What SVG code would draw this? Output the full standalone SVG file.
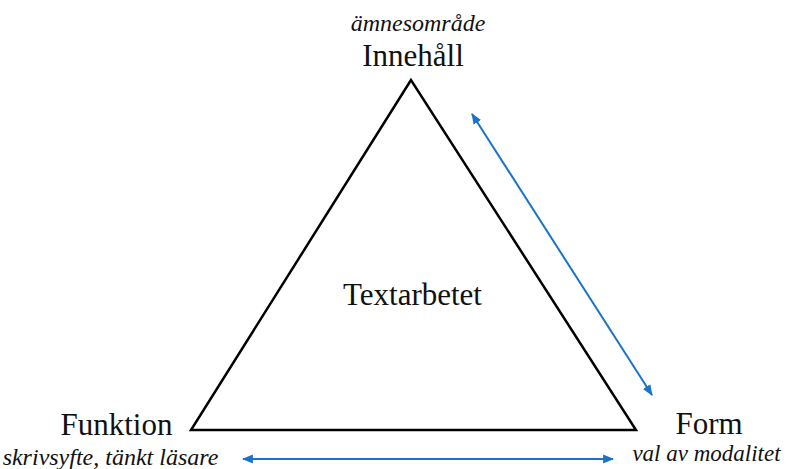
<svg xmlns="http://www.w3.org/2000/svg" width="789" height="469" viewBox="0 0 789 469">
<style>
.t{font-family:"Liberation Serif","Times New Roman",serif;fill:#111;}
.lbl{font-size:31px;}
.sub{font-size:24px;font-style:italic;}
.sub2{font-size:23px;font-style:italic;}
.arr{stroke:#1a73c7;stroke-width:2;fill:none;marker-start:url(#ah);marker-end:url(#ah);}
</style>
<defs>
<marker id="ah" viewBox="0 0 10 10" refX="9" refY="5" markerWidth="5.5" markerHeight="5.5" orient="auto-start-reverse" markerUnits="strokeWidth">
<path d="M0,1 L10,5 L0,9 Z" fill="#1a73c7"/>
</marker>
</defs>
<rect width="789" height="469" fill="#fff"/>
<g id="triangle">
<polygon points="411,80 191,430 636,430" fill="none" stroke="#000" stroke-width="2.5" stroke-linejoin="miter"/>
</g>
<g id="node-innehall">
<text class="t sub" x="418" y="31" text-anchor="middle">ämnesområde</text>
<text class="t lbl" x="413" y="66" text-anchor="middle">Innehåll</text>
</g>
<g id="node-textarbetet">
<text class="t lbl" x="412.5" y="305" text-anchor="middle">Textarbetet</text>
</g>
<g id="node-funktion">
<text class="t lbl" x="116.5" y="435" text-anchor="middle">Funktion</text>
<text class="t sub" x="110.5" y="465" text-anchor="middle">skrivsyfte, tänkt läsare</text>
</g>
<g id="node-form">
<text class="t lbl" x="709" y="434" text-anchor="middle">Form</text>
<text class="t sub2" x="706.5" y="461" text-anchor="middle">val av modalitet</text>
</g>
<g id="connectors">
<line class="arr" x1="472" y1="114" x2="652" y2="395"/>
<line class="arr" x1="243" y1="459" x2="613" y2="459"/>
</g>
</svg>
